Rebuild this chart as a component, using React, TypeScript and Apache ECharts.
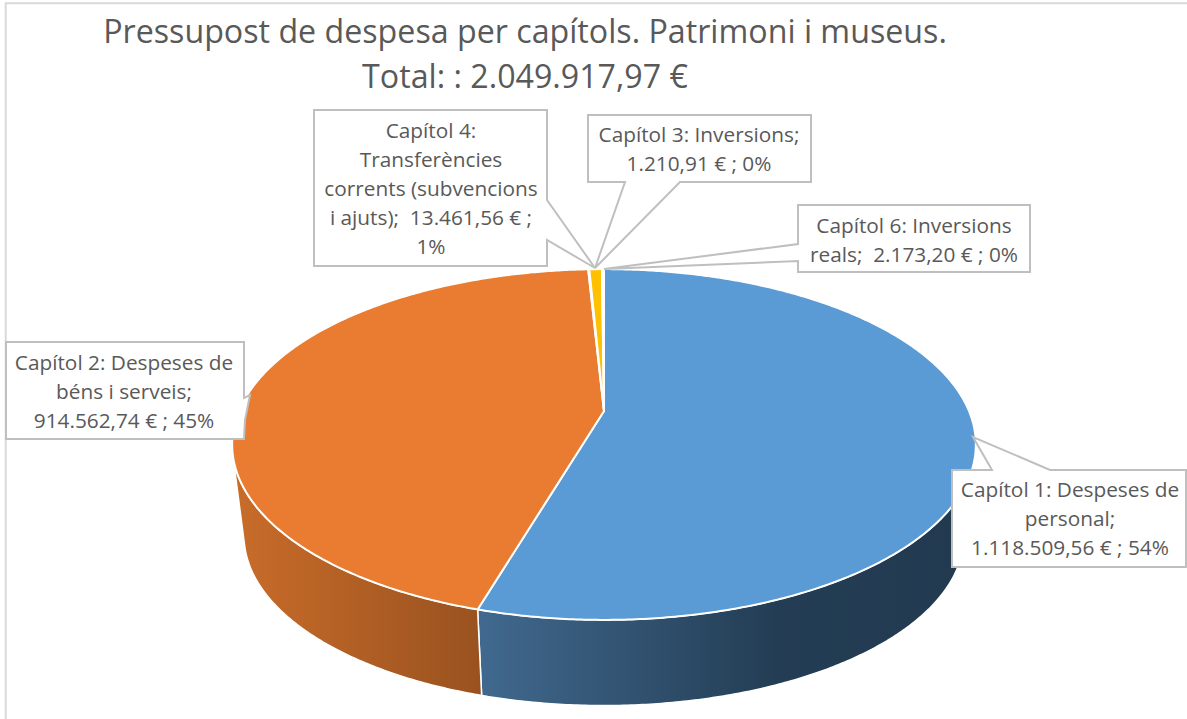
import React, { useEffect, useRef } from "react";
import * as echarts from "echarts";

const chapters = ["Capítol 1", "Capítol 2", "Capítol 3", "Capítol 4", "Capítol 6"];
const amounts = [1118509.56, 914562.74, 1210.91, 13461.56, 2173.2];
const topColors = ["#5b9bd5", "#e97c30", "#a5a5a5", "#ffc000", "#4472c4"];
const titleText = "Pressupost de despesa per capítols. Patrimoni i museus.\nTotal: : 2.049.917,97 €";
const labelTexts = [
  "Capítol 1: Despeses de\npersonal;\n1.118.509,56 € ; 54%",
  "Capítol 2: Despeses de\nbéns i serveis;\n914.562,74 € ; 45%",
  "Capítol 3: Inversions;\n1.210,91 € ; 0%",
  "Capítol 4:\nTransferències\ncorrents (subvencions\ni ajuts);  13.461,56 € ;\n1%",
  "Capítol 6: Inversions\nreals;  2.173,20 € ; 0%",
];

const CX = 604, CY = 411, F = 365, G = 169, K = 0.191;
const SCALE = 0.968, VY = 3297;

const topPt = (deg: number) => {
  const a = (deg * Math.PI) / 180;
  const u = Math.sin(a), v = -Math.cos(a), w = 1 - K * v;
  return [CX + (F * u) / w, CY + (G * v) / w];
};
const botPt = (deg: number) => {
  const [x, y] = topPt(deg);
  return [CX + SCALE * (x - CX), SCALE * y + (1 - SCALE) * VY];
};
const arc = (fn: (d: number) => number[], a: number, b: number) => {
  const n = Math.max(2, Math.ceil(Math.abs(b - a) * 2));
  const pts: number[][] = [];
  for (let i = 0; i <= n; i++) pts.push(fn(a + ((b - a) * i) / n));
  return pts;
};

let wallFrom = 0, wallTo = 360;
{
  let mx = -Infinity, mn = Infinity;
  for (let d = 0; d < 360; d += 0.25) {
    const [x, y] = topPt(d);
    const phi = (x - CX) / (VY - y);
    if (phi > mx) { mx = phi; wallFrom = d; }
    if (phi < mn) { mn = phi; wallTo = d; }
  }
}

const total = amounts.reduce((s, v) => s + v, 0);
const wallFills: any[] = [
  new echarts.graphic.LinearGradient(0, 0, 1, 0, [
    { offset: 0, color: "#41698f" },
    { offset: 0.6, color: "#233d54" },
    { offset: 1, color: "#223a50" },
  ]),
  new echarts.graphic.LinearGradient(0, 0, 1, 0, [
    { offset: 0, color: "#c96c2a" },
    { offset: 1, color: "#99521f" },
  ]),
  "#6f6f6f", "#b88a00", "#2f5597",
];

const renderItem = (params: any, api: any) => {
  const i = params.dataIndex;
  let before = 0;
  for (let j = 0; j < i; j++) before += amounts[j];
  const a0 = (before / total) * 360;
  const a1 = a0 + (api.value(0) / total) * 360;
  const children: any[] = [];
  const w0 = Math.max(a0, wallFrom), w1 = Math.min(a1, wallTo);
  if (w1 > w0) {
    const pts = [...arc(topPt, w0, w1), ...arc(botPt, w1, w0)];
    children.push({
      type: "polygon",
      shape: { points: pts },
      style: { fill: wallFills[i], stroke: "#ffffff", lineWidth: 1.5 },
    });
  }
  children.push({
    type: "polygon",
    shape: { points: [[CX, CY], ...arc(topPt, a0, a1)] },
    style: { fill: topColors[i], stroke: "#ffffff", lineWidth: 2 },
  });
  return { type: "group", children };
};

const BOX = "#bfbfbf";
const callouts: number[][][] = [
  [[952, 470], [992, 470], [973, 437], [1050, 470], [1186, 470], [1186, 567], [952, 567]],
  [[6, 342], [244, 342], [244, 398], [250, 395], [245, 420], [244, 439], [6, 439]],
  [[588, 115], [811, 115], [811, 182], [680, 182], [595, 268], [625, 182], [588, 182]],
  [[314, 110], [547, 110], [547, 200], [595, 268], [547, 240], [547, 266], [314, 266]],
  [[798, 205], [1030, 205], [1030, 272], [798, 272], [798, 261], [604, 269], [798, 244]],
];
const labelCenters = [
  [1070, 518], [124, 391], [699, 148], [431, 188], [914, 239.5],
];

export default function App() {
  const ref = useRef<HTMLDivElement>(null);
  useEffect(() => {
    document.body.style.margin = "0";
    const chart = echarts.init(ref.current!, undefined, { renderer: "svg" });
    const graphic: any[] = [
      {
        type: "polyline",
        shape: { points: [[5.7, 719], [5.7, 3.2], [1187, 3.2]] },
        style: { fill: "none", stroke: "#d9d9d9", lineWidth: 2 },
        z: 1,
      },
    ];
    callouts.forEach((pts, i) => {
      graphic.push({
        type: "polygon",
        shape: { points: pts },
        style: { fill: "#ffffff", stroke: BOX, lineWidth: 2 },
        z: 10,
      });
      graphic.push({
        type: "text",
        x: labelCenters[i][0],
        y: labelCenters[i][1],
        style: {
          text: labelTexts[i],
          align: "center",
          verticalAlign: "middle",
          fontFamily: "Open Sans",
          fontSize: 20.8,
          lineHeight: 29,
          fill: "#595959",
        },
        z: 11,
      });
    });
    chart.setOption({
      animation: false,
      backgroundColor: "#ffffff",
      title: {
        text: titleText,
        left: 520,
        top: 3,
        textAlign: "center",
        textStyle: {
          fontFamily: "Open Sans",
          fontSize: 32.2,
          fontWeight: "normal",
          lineHeight: 45,
          color: "#595959",
        },
      },
      graphic,
      series: [
        {
          type: "custom",
          name: chapters.join(", "),
          coordinateSystem: "none",
          silent: true,
          renderItem,
          data: amounts.map((v) => [v]),
          z: 2,
        },
      ],
    });
    return () => chart.dispose();
  }, []);
  return <div ref={ref} style={{ width: 1187, height: 719, overflow: "hidden" }} />;
}
